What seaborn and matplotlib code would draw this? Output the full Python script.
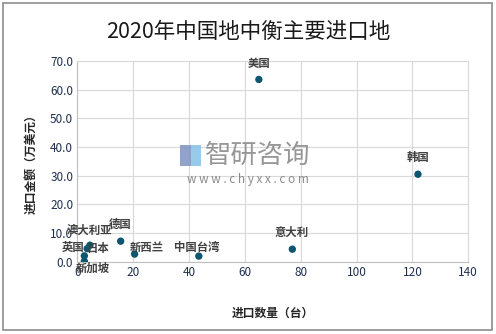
import matplotlib
matplotlib.use("Agg")
import matplotlib.pyplot as plt
import matplotlib.patches as mpatches
import seaborn as sns
import pandas as pd
from matplotlib.ticker import FormatStrFormatter, MultipleLocator

countries = ["美国", "韩国", "意大利", "德国", "新西兰", "中国台湾", "澳大利亚", "日本", "英国", "新加坡"]
quantity = [65, 122, 77, 15.5, 20.5, 43.5, 4.5, 3.5, 2.5, 2.5]
amount = [63.5, 30.5, 4.4, 7.2, 2.7, 2.0, 5.8, 4.6, 2.1, 0.2]

title = "2020年中国地中衡主要进口地"
xlabel = "进口数量（台）"
ylabel = "进口金额（万美元）"

df = pd.DataFrame({"country": countries, "qty": quantity, "amt": amount})

sns.set_theme(style="white")
plt.rcParams["font.family"] = ["Noto Sans CJK SC", "DejaVu Sans"]

fig = plt.figure(figsize=(4.96, 3.34), dpi=100)
ax = fig.add_axes([0.156, 0.216, 0.788, 0.602])

sns.scatterplot(data=df, x="qty", y="amt", ax=ax, color="#0d566f", s=28,
                edgecolor="none", zorder=3)

ax.set_xlim(0, 140)
ax.set_ylim(0, 70)
ax.xaxis.set_major_locator(MultipleLocator(20))
ax.yaxis.set_major_locator(MultipleLocator(10))
ax.yaxis.set_major_formatter(FormatStrFormatter("%.1f"))
ax.grid(True, color="#d9d9d9", linewidth=0.8)
for s in ["top", "right"]:
    ax.spines[s].set_color("#d9d9d9")
    ax.spines[s].set_linewidth(0.8)
for s in ["left", "bottom"]:
    ax.spines[s].set_color("#bfbfbf")
    ax.spines[s].set_linewidth(0.8)
ax.tick_params(axis="both", labelsize=8.5, length=0, pad=3)
for lab in ax.get_xticklabels() + ax.get_yticklabels():
    lab.set_color("#1f2f4f")
ax.set_xlabel(xlabel, fontsize=8.5, fontweight="bold", color="#262626", labelpad=20)
ax.set_ylabel(ylabel, fontsize=8.5, fontweight="bold", color="#262626", labelpad=9)

offsets = {
    "美国": (0, 16), "韩国": (0, 17), "意大利": (-1, 17), "德国": (0, 17),
    "新西兰": (12, 7), "中国台湾": (-2, 9), "澳大利亚": (0, 15),
    "日本": (10, 0), "英国": (-11, 8), "新加坡": (8, -7),
}
for c, xq, ya in zip(countries, quantity, amount):
    dx, dy = offsets[c]
    ax.annotate(c, (xq, ya), xytext=(dx * 0.72, dy * 0.72), textcoords="offset points",
                ha="center", va="center", fontsize=8.2, fontweight="bold",
                color="#404040", zorder=4)

fig.text(0.5, 0.905, title, ha="center", va="center", fontsize=15.5, color="#1a1a1a")

# watermark
fig.text(0.52, 0.536, "智研咨询", ha="center", va="center", fontsize=19,
         color="#8c8c8c", alpha=0.9)
fig.text(0.499, 0.463, "w w w . c h y x x . c o m", ha="center", va="center",
         fontsize=8.5, color="#7f7f7f", alpha=0.9)
fig.patches.append(mpatches.Rectangle((180 / 496, 1 - 166 / 334), 11 / 496, 21 / 334,
                                      transform=fig.transFigure,
                                      facecolor="#7f93c2", edgecolor="none", alpha=0.85))
fig.patches.append(mpatches.Rectangle((191 / 496, 1 - 166 / 334), 10 / 496, 21 / 334,
                                      transform=fig.transFigure,
                                      facecolor="#86c1e6", edgecolor="none", alpha=0.85))

fig.patches.append(mpatches.Rectangle((0.006, 0.012), 0.986, 0.978, transform=fig.transFigure,
                                      fill=False, edgecolor="#8c8c8c", linewidth=1.2))

fig.savefig("out.png", dpi=100)
